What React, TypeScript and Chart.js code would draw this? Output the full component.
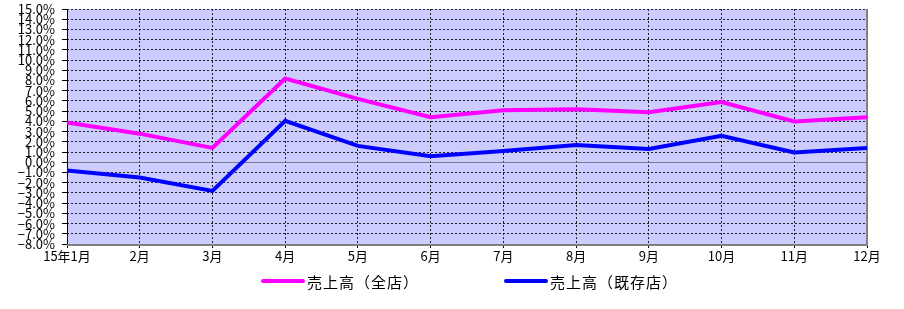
import React, { useEffect, useRef } from "react";
import { Chart, registerables } from "chart.js";

Chart.register(...registerables);

const categories = ["15年1月", "2月", "3月", "4月", "5月", "6月", "7月", "8月", "9月", "10月", "11月", "12月"];
const allStores = [3.9, 2.8, 1.4, 8.2, 6.2, 4.4, 5.1, 5.2, 4.9, 5.9, 4.0, 4.4];
const existingStores = [-0.8, -1.5, -2.8, 4.05, 1.6, 0.6, 1.1, 1.7, 1.3, 2.6, 0.95, 1.4];
const seriesNames = ["売上高（全店）", "売上高（既存店）"];
const seriesColors = ["#FF00FF", "#0000FF"];
const yMin = -8;
const yMax = 15;

const FONT = "'Noto Sans CJK JP', 'Noto Sans', sans-serif";

const framePlugin = {
  id: "frame",
  beforeDraw(chart: any) {
    const { ctx, chartArea } = chart;
    ctx.save();
    ctx.fillStyle = "#CCCCFF";
    ctx.fillRect(chartArea.left, chartArea.top, chartArea.right - chartArea.left, chartArea.bottom - chartArea.top);
    ctx.restore();
  },
  beforeDatasetsDraw(chart: any) {
    const { ctx, chartArea, scales } = chart;
    const y0 = Math.round(scales.y.getPixelForValue(0)) + 0.5;
    ctx.save();
    ctx.strokeStyle = "#7a7a8a";
    ctx.lineWidth = 1;
    ctx.beginPath();
    ctx.moveTo(chartArea.left, y0);
    ctx.lineTo(chartArea.right, y0);
    ctx.stroke();
    ctx.strokeStyle = "#000";
    ctx.lineWidth = 1;
    ctx.beginPath();
    ctx.moveTo(chartArea.left + 0.5, chartArea.top);
    ctx.lineTo(chartArea.left + 0.5, chartArea.bottom);
    ctx.stroke();
    ctx.strokeStyle = "#808080";
    ctx.lineWidth = 2;
    ctx.beginPath();
    ctx.moveTo(chartArea.right, chartArea.top);
    ctx.lineTo(chartArea.right, chartArea.bottom + 1);
    ctx.moveTo(chartArea.left, chartArea.bottom + 1);
    ctx.lineTo(chartArea.right + 1, chartArea.bottom + 1);
    ctx.stroke();
    ctx.restore();
  },
};

export default function App() {
  const ref = useRef<HTMLCanvasElement | null>(null);
  useEffect(() => {
    if (!ref.current) return;
    const chart = new Chart(ref.current, {
      type: "line",
      data: {
        labels: categories,
        datasets: [
          {
            label: seriesNames[0],
            data: allStores,
            borderColor: seriesColors[0],
            backgroundColor: seriesColors[0],
            borderWidth: 4,
            pointRadius: 0,
            tension: 0,
          },
          {
            label: seriesNames[1],
            data: existingStores,
            borderColor: seriesColors[1],
            backgroundColor: seriesColors[1],
            borderWidth: 4,
            pointRadius: 0,
            tension: 0,
          },
        ],
      },
      options: {
        animation: false,
        responsive: false,
        maintainAspectRatio: false,
        layout: { padding: { left: 0, right: 37, top: 9, bottom: 45 } },
        plugins: { legend: { display: false }, tooltip: { enabled: false } },
        scales: {
          x: {
            offset: false,
            grid: {
              color: "rgba(0,0,0,0.85)",
              lineWidth: 1,
              drawTicks: true,
              tickLength: 4,
              tickColor: "#000",
            },
            border: { display: false, dash: [2, 2] },
            ticks: {
              color: "#000",
              font: { family: FONT, size: 13 },
              padding: 0,
              maxRotation: 0,
              autoSkip: false,
            },
            afterFit(scale: any) {
              scale.height = 20;
              scale.paddingLeft = 0;
              scale.paddingRight = 0;
            },
          },
          y: {
            min: yMin,
            max: yMax,
            grid: {
              color: "rgba(0,0,0,0.85)",
              lineWidth: 1,
              drawTicks: true,
              tickLength: 5,
              tickColor: "#000",
            },
            border: { display: false, dash: [2, 2] },
            ticks: {
              stepSize: 1,
              autoSkip: false,
              color: "#000",
              font: { family: FONT, size: 13 },
              padding: 7,
              callback: (v: any) => (Number(v) < 0 ? "−" : "") + Math.abs(Number(v)).toFixed(1) + "%",
            },
            afterFit(scale: any) {
              scale.width = 67;
              scale.paddingTop = 0;
              scale.paddingBottom = 0;
            },
          },
        },
      },
      plugins: [framePlugin],
    });
    return () => chart.destroy();
  }, []);

  const legendItem = (i: number, left: number) => (
    <div
      key={i}
      style={{
        position: "absolute",
        left,
        top: 272,
        height: 18,
        display: "flex",
        alignItems: "center",
        fontFamily: FONT,
        fontSize: 15,
        letterSpacing: "1px",
        color: "#000",
        whiteSpace: "nowrap",
      }}
    >
      <span style={{ display: "inline-block", width: 44, height: 4, background: seriesColors[i], borderRadius: 2, marginRight: 2 }} />
      <span>{seriesNames[i]}</span>
    </div>
  );

  return (
    <div style={{ position: "fixed", left: 0, top: 0, width: 904, height: 309, background: "#fff", overflow: "hidden" }}>
      <canvas ref={ref} width={904} height={309} style={{ display: "block", width: 904, height: 309 }} />
      {legendItem(0, 261)}
      {legendItem(1, 504)}
    </div>
  );
}
